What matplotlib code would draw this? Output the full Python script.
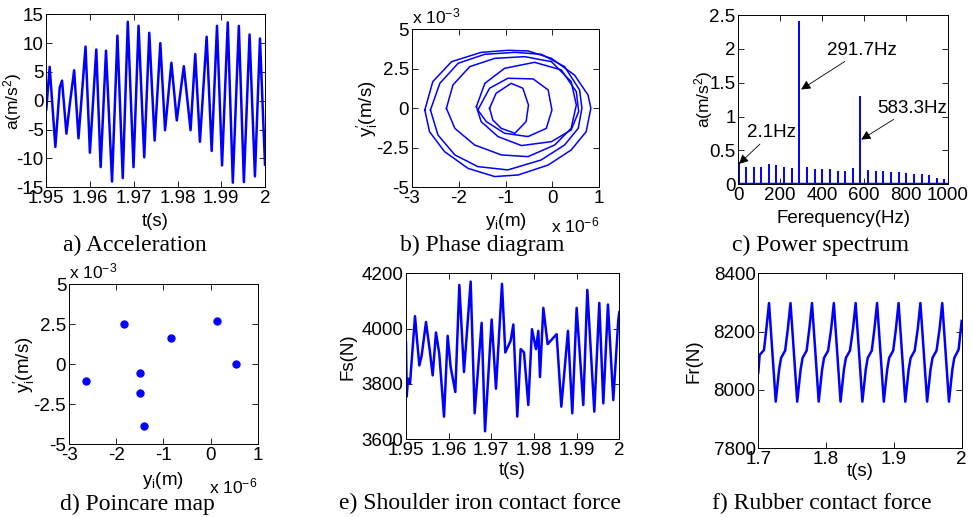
import numpy as np
import matplotlib
matplotlib.use("Agg")
import matplotlib.pyplot as plt
from matplotlib.ticker import FormatStrFormatter

plt.rcParams['font.family'] = ['Liberation Sans', 'DejaVu Sans']
plt.rcParams['mathtext.fontset'] = 'custom'
plt.rcParams['mathtext.rm'] = 'Liberation Sans'
plt.rcParams['mathtext.it'] = 'Liberation Sans:italic'
plt.rcParams['mathtext.default'] = 'regular'
plt.rcParams['axes.unicode_minus'] = False

BLUE = '#0000ff'

# a) acceleration, extrema
acc_t = [1.9500, 1.95077, 1.95207, 1.95307, 1.9536, 1.9546, 1.95537, 1.95637, 1.95736,
         1.95897, 1.95997, 1.96143, 1.96242, 1.96365, 1.96503, 1.96626, 1.96748,
         1.96863, 1.96994, 1.97109, 1.97239, 1.97354, 1.97477, 1.97607, 1.97715,
         1.9786, 1.97983, 1.98144, 1.98298, 1.98405, 1.98512, 1.98666, 1.98781,
         1.98903, 1.99018, 1.99149, 1.99264, 1.99402, 1.99517, 1.99647, 1.9977,
         1.99885, 2.0000]
acc = [-1.5, 5.9, -8.0, 2.3, 3.5, -5.7, -0.6, 5.3, -6.5,
       9.4, -9.0, 8.9, -11.5, 8.7, -14.0, 11.3, -13.4,
       13.7, -11.5, 13.0, -9.8, 11.8, -6.9, 10.0, -5.1,
       6.6, -3.4, 6.0, -5.1, 8.1, -7.1, 11.1, -8.7,
       13.0, -11.2, 13.6, -14.2, 13.0, -14.1, 11.5, -13.1,
       10.8, -11.1]

# b) phase diagram loops (x in 1e-6 m, y in 1e-3 m/s)
loops_x = [
    [-2.72, -2.55, -2.15, -1.52, -0.95, -0.52, -0.02, 0.47, 0.76, 0.82, 0.72, 0.40, -0.09, -0.73, -1.23, -1.80, -2.30, -2.62],
    [-2.60, -2.40, -2.01, -1.44, -0.80, -0.24, 0.26, 0.58, 0.63, 0.55, 0.26, -0.24, -0.95, -1.59, -2.08, -2.44],
    [-2.26, -2.12, -1.76, -1.23, -0.59, -0.02, 0.40, 0.51, 0.40, 0.05, -0.52, -1.09, -1.66, -2.08],
    [-1.62, -1.44, -1.02, -0.38, 0.19, 0.51, 0.56, 0.40, -0.02, -0.66, -1.16, -1.52],
    [-1.59, -1.34, -0.95, -0.41, -0.09, -0.01, -0.13, -0.52, -1.02, -1.41],
    [-1.34, -1.20, -0.88, -0.63, -0.51, -0.56, -0.80, -1.09, -1.27],
]
loops_y = [
    [-0.11, 1.69, 2.95, 3.54, 3.67, 3.63, 3.16, 2.11, 0.84, 0.0, -1.48, -2.64, -3.59, -4.22, -4.32, -3.80, -2.74, -1.48],
    [-0.11, 1.58, 2.85, 3.42, 3.54, 3.42, 2.64, 1.16, 0.0, -1.27, -2.32, -3.27, -3.90, -3.69, -2.95, -1.69],
    [0.0, 1.48, 2.64, 3.16, 3.27, 2.95, 1.69, 0.21, -1.27, -2.32, -3.06, -2.95, -2.32, -1.27],
    [0.11, 1.58, 2.53, 2.91, 2.43, 1.05, -0.21, -1.37, -2.11, -2.36, -1.79, -0.84],
    [-0.11, 1.27, 1.90, 1.86, 1.16, -0.11, -1.27, -1.79, -1.58, -0.84],
    [0.0, 0.95, 1.58, 1.27, 0.21, -0.84, -1.58, -1.27, -0.74],
]

# c) power spectrum
freq = [2.1, 36.5, 72.9, 109.4, 145.8, 182.3, 218.8, 255.2, 291.7, 328.1, 364.6,
        401.0, 437.5, 474.0, 510.4, 546.9, 583.3, 619.8, 656.3, 692.7, 729.2,
        765.6, 802.1, 838.5, 875.0, 911.5, 947.9, 984.4]
amp = [0.33, 0.26, 0.26, 0.25, 0.30, 0.29, 0.25, 0.24, 2.41, 0.26, 0.23,
       0.23, 0.23, 0.20, 0.19, 0.24, 1.30, 0.21, 0.20, 0.20, 0.18,
       0.18, 0.17, 0.15, 0.15, 0.13, 0.09, 0.08]

# d) poincare map
pc_x = [-2.64, -1.83, -1.49, -1.49, -1.41, -0.84, 0.14, 0.53]
pc_y = [-1.02, 2.50, -0.56, -1.81, -3.83, 1.63, 2.73, 0.0]

# e) shoulder iron contact force
fs_t = [1.95, 1.95016, 1.95047, 1.95094, 1.95211, 1.9525, 1.95313, 1.95367, 1.95469,
        1.95563, 1.95625, 1.95703, 1.95781, 1.95891, 1.95977, 1.96047, 1.96156,
        1.9625, 1.96359, 1.96516, 1.96609, 1.96773, 1.96852, 1.97008, 1.97109,
        1.9725, 1.97328, 1.97453, 1.97516, 1.97609, 1.97688, 1.97766, 1.97867,
        1.97953, 1.98047, 1.98102, 1.98141, 1.98219, 1.9832, 1.98531, 1.98641,
        1.98797, 1.98898, 1.99, 1.99156, 1.9925, 1.99414, 1.99531, 1.99625,
        1.99734, 1.99859, 1.99977, 2.0]
fs = [3950, 3754, 3819, 3801, 4045, 3974, 3867, 3902, 4024,
      3914, 3831, 3986, 3908, 3682, 3974, 3861, 3771,
      4158, 3843, 4170, 3694, 4021, 3629, 4033, 3783,
      4162, 3914, 3956, 4015, 3682, 3926, 3914, 3724,
      3998, 3926, 3992, 3825, 4075, 3944, 3980, 3718,
      3992, 3694, 4075, 3724, 4140, 3700, 4093, 3730,
      4087, 3742, 4033, 4060]

# f) rubber contact force
fr_t = [1.7000, 1.7020, 1.7084, 1.7119,
        1.7158, 1.7208, 1.7257, 1.7307, 1.7336, 1.7396, 1.7436,
        1.7475, 1.7525, 1.7574, 1.7624, 1.7653, 1.7713, 1.7753,
        1.7792, 1.7842, 1.7891, 1.7941, 1.7970, 1.8030, 1.8075,
        1.8114, 1.8164, 1.8213, 1.8263, 1.8292, 1.8352, 1.8397,
        1.8436, 1.8486, 1.8535, 1.8585, 1.8614, 1.8674, 1.8713,
        1.8752, 1.8802, 1.8851, 1.8901, 1.8930, 1.8990, 1.9030,
        1.9069, 1.9119, 1.9168, 1.9218, 1.9247, 1.9307, 1.9352,
        1.9391, 1.9441, 1.9490, 1.9540, 1.9569, 1.9629, 1.9674,
        1.9713, 1.9763, 1.9812, 1.9862, 1.9891, 1.9955, 2.0000]
fr = [8060, 8120, 8137, 8210,
      8298, 8128, 7960, 8070, 8110, 8135, 8210,
      8298, 8128, 7960, 8070, 8110, 8135, 8210,
      8298, 8128, 7960, 8070, 8110, 8135, 8210,
      8298, 8128, 7960, 8070, 8110, 8135, 8210,
      8298, 8128, 7960, 8070, 8110, 8135, 8210,
      8298, 8128, 7960, 8070, 8110, 8135, 8210,
      8298, 8128, 7960, 8070, 8110, 8135, 8210,
      8298, 8128, 7960, 8070, 8110, 8135, 8210,
      8298, 8128, 7960, 8070, 8110, 8139, 8237]

captions = ['a) Acceleration', 'b) Phase diagram', 'c) Power spectrum',
            'd) Poincare map', 'e) Shoulder iron contact force', 'f) Rubber contact force']

W, H = 973, 517
FS = 13.5
fig = plt.figure(figsize=(W / 100, H / 100), dpi=100)


def box(l, t, r, b):
    return [l / W, 1 - b / H, (r - l) / W, (b - t) / H]


def style(ax, xl, yl, xlab, ylab, yfs=FS):
    ax.tick_params(direction='in', top=True, right=True, length=4, width=0.6,
                   labelsize=FS, pad=2)
    for s in ax.spines.values():
        s.set_linewidth(0.7)
    ax.xaxis.set_major_formatter(FormatStrFormatter('%g'))
    ax.yaxis.set_major_formatter(FormatStrFormatter('%g'))
    ax.set_xlabel(xl, fontsize=FS)
    ax.set_ylabel(yl, fontsize=yfs)
    ax.xaxis.set_label_coords(0.5, xlab)
    ax.yaxis.set_label_coords(ylab, 0.5)


ax_a = fig.add_axes(box(46.3, 14.3, 265, 187.3))
ax_b = fig.add_axes(box(411.7, 29.3, 599.3, 187.3))
ax_c = fig.add_axes(box(738.3, 15, 947.7, 184.3))
ax_d = fig.add_axes(box(69, 284.3, 257.7, 444.3))
ax_e = fig.add_axes(box(406, 273.3, 619.3, 439.3))
ax_f = fig.add_axes(box(758.3, 273.3, 961.7, 448.3))

yprime = r"y$_i^{\prime}$(m/s)"

# a
ax_a.plot(acc_t, acc, color=BLUE, lw=1.8)
ax_a.set_xlim(1.95, 2)
ax_a.set_ylim(-15, 15)
ax_a.set_xticks([1.95, 1.96, 1.97, 1.98, 1.99, 2])
ax_a.set_yticks([-15, -10, -5, 0, 5, 10, 15])
style(ax_a, 't(s)', 'a(m/s$^2$)', -0.149, -0.100, yfs=12.5)

# b
for lx, ly in zip(loops_x, loops_y):
    ax_b.plot(lx + lx[:1], ly + ly[:1], color=BLUE, lw=1.1)
ax_b.set_xlim(-3, 1)
ax_b.set_ylim(-5, 5)
ax_b.set_xticks([-3, -2, -1, 0, 1])
ax_b.set_yticks([-5, -2.5, 0, 2.5, 5])
style(ax_b, 'y$_i$(m)', yprime, -0.15, -0.169)
ax_b.text(0, 1.02, 'x 10$^{-3}$', transform=ax_b.transAxes, fontsize=12.5, ha='left', va='bottom')
ax_b.text(1, -0.18, 'x 10$^{-6}$', transform=ax_b.transAxes, fontsize=12.5, ha='right', va='top')

# c
ax_c.vlines(freq, 0, amp, color=BLUE, lw=1.4)
ax_c.axhline(0, color=BLUE, lw=2.5)
ax_c.set_xlim(0, 1000)
ax_c.set_ylim(0, 2.5)
ax_c.set_xticks([0, 200, 400, 600, 800, 1000])
ax_c.set_yticks([0, 0.5, 1, 1.5, 2, 2.5])
style(ax_c, 'Ferequency(Hz)', 'a(m/s$^2$)', -0.152, -0.112, yfs=12.5)
arrow = dict(arrowstyle='-|>', color='k', lw=0.6, mutation_scale=14, shrinkA=0, shrinkB=0)
ax_c.annotate('291.7Hz', xy=(300, 1.40), xytext=(592, 1.98), fontsize=FS,
              ha='center', va='center', arrowprops=arrow)
ax_c.annotate('583.3Hz', xy=(587, 0.66), xytext=(828, 1.125), fontsize=FS,
              ha='center', va='center', arrowprops=arrow)
ax_c.annotate('2.1Hz', xy=(3, 0.30), xytext=(160, 0.76), fontsize=FS,
              ha='center', va='center', arrowprops=arrow)

# d
ax_d.plot(pc_x, pc_y, ls='none', marker='o', ms=5, color=BLUE)
ax_d.set_xlim(-3, 1)
ax_d.set_ylim(-5, 5)
ax_d.set_xticks([-3, -2, -1, 0, 1])
ax_d.set_yticks([-5, -2.5, 0, 2.5, 5])
style(ax_d, 'y$_i$(m)', yprime, -0.16, -0.170)
ax_d.text(0, 1.02, 'x 10$^{-3}$', transform=ax_d.transAxes, fontsize=12.5, ha='left', va='bottom')
ax_d.text(1, -0.2, 'x 10$^{-6}$', transform=ax_d.transAxes, fontsize=12.5, ha='right', va='top')

# e
ax_e.plot(fs_t, fs, color=BLUE, lw=1.8)
ax_e.set_xlim(1.95, 2)
ax_e.set_ylim(3600, 4200)
ax_e.set_xticks([1.95, 1.96, 1.97, 1.98, 1.99, 2])
ax_e.set_yticks([3600, 3800, 4000, 4200])
style(ax_e, 't(s)', 'Fs(N)', -0.137, -0.230)

# f
ax_f.plot(fr_t, fr, color=BLUE, lw=1.8)
ax_f.set_xlim(1.7, 2)
ax_f.set_ylim(7800, 8400)
ax_f.set_xticks([1.7, 1.8, 1.9, 2])
ax_f.set_yticks([7800, 8000, 8200, 8400])
style(ax_f, 't(s)', 'Fr(N)', -0.084, -0.272)

cap_pos = [(135, 251), (482, 251), (821, 251), (137, 510), (480, 509), (822, 509)]
for txt, (cx, cy) in zip(captions, cap_pos):
    fig.text(cx / W, 1 - cy / H, txt, family='Liberation Serif', fontsize=17,
             ha='center', va='baseline')

fig.savefig('out.png', dpi=100)
